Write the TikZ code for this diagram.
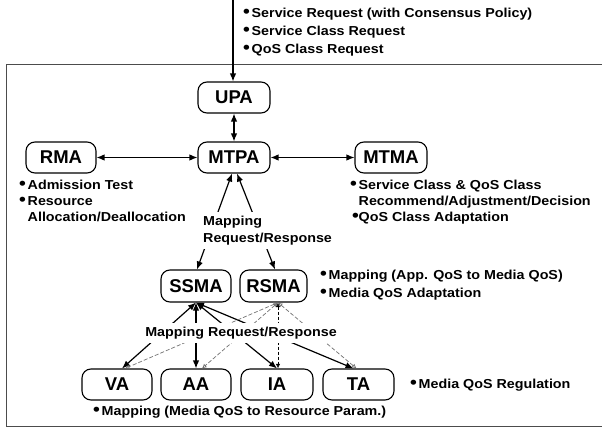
\documentclass[tikz,border=0pt]{standalone}
\usepackage{fontspec}
\setmainfont{Liberation Sans}
\newfontfamily\lblfont{Liberation Sans}[FakeStretch=1.10]
\usetikzlibrary{arrows.meta}
\newcommand{\bul}{\makebox[8.5pt][l]{\raisebox{-0.3pt}{\scalebox{1.35}{\textbullet}}}}
\begin{document}
\begin{tikzpicture}[x=1pt,y=-1pt,
  agent/.style={draw, line width=1.1pt, rounded corners=9pt, minimum height=31pt,
    font=\fontsize{18.5}{20}\selectfont\bfseries, inner sep=0pt},
  note/.style={anchor=west, inner sep=0pt, font=\lblfont\fontsize{13}{14}\selectfont\bfseries,
    text height=9.5pt, text depth=2.5pt},
  lbl/.style={fill=white, font=\lblfont\fontsize{13}{17}\selectfont\bfseries, align=left},
  arr/.style={line width=1.2pt, -{Latex[length=8pt,width=6.5pt]}},
  link/.style={line width=1.2pt, {Latex[length=8pt,width=6.5pt]}-{Latex[length=8pt,width=6.5pt]}},
  glink/.style={black!55, line width=0.7pt, dash pattern=on 4pt off 2pt,
    {Latex[open,length=4.5pt,width=4.5pt]}-{Latex[open,length=4.5pt,width=4.5pt]}},
  dlink/.style={black, line width=0.9pt, dash pattern=on 3pt off 2pt,
    {Latex[open,length=4.5pt,width=4.5pt]}-{Latex[open,length=4.5pt,width=4.5pt]}}
]
\useasboundingbox (0,0) rectangle (602,430);
\fill[white] (0,0) rectangle (602,430);
% frame
\draw[black!70, line width=0.9pt] (6,64) rectangle (615,426);

% agents
\node[agent, minimum width=72pt] (UPA)  at (234,97.5)  {UPA};
\node[agent, minimum width=72pt] (MTPA) at (234,157.5) {MTPA};
\node[agent, minimum width=70pt] (RMA)  at (61,157.5)  {RMA};
\node[agent, minimum width=72pt] (MTMA) at (391,157.5) {MTMA};
\node[agent, minimum width=70pt, minimum height=32pt] (SSMA) at (196,286) {SSMA};
\node[agent, minimum width=67pt, minimum height=32pt] (RSMA) at (273.5,286) {RSMA};
\node[agent, minimum width=70pt] (VA) at (117,384.5) {VA};
\node[agent, minimum width=70pt] (AA) at (196,384.5) {AA};
\node[agent, minimum width=72pt] (IA) at (277,384.5) {IA};
\node[agent, minimum width=71pt] (TA) at (358.5,384.5) {TA};

% incoming request
\coordinate (in) at (233,0);
\draw[arr] (in) -- ([xshift=-1pt]UPA.north);
\node[note] (t1) at (243,14) {\bul Service Request (with Consensus Policy)};
\node[note] (t2) at (243,32) {\bul Service Class Request};
\node[note] (t3) at (243,50) {\bul QoS Class Request};

% upper links
\draw[link] (UPA) -- (MTPA);
\draw[link] (RMA) -- (MTPA);
\draw[link] (MTPA) -- (MTMA);
\draw[link] ([xshift=1pt]SSMA.north) -- ([xshift=-2pt]MTPA.south);
\draw[link] ([xshift=1.5pt]RSMA.north) -- ([xshift=3pt]MTPA.south);

% lower links
\draw[link] (SSMA.south) -- ([xshift=5pt]VA.north);
\draw[link] (SSMA.south) -- (AA.north);
\draw[link] (SSMA.south) -- (IA.north);
\draw[link] (SSMA.south) -- ([xshift=-5pt]TA.north);
\draw[glink] ([xshift=4.5pt]RSMA.south) -- ([xshift=8pt]VA.north);
\draw[glink] ([xshift=4.5pt]RSMA.south) -- ([xshift=6pt]AA.north);
\draw[dlink] ([xshift=4.5pt]RSMA.south) -- ([xshift=1pt]IA.north);
\draw[glink] ([xshift=4.5pt]RSMA.south) -- ([xshift=-2pt]TA.north);

% labels on links
\node[lbl, anchor=west, inner xsep=0pt, inner ysep=4pt] (m1) at (203,230.5) {Mapping\\Request/Response};
\node[lbl, inner xsep=1pt, inner ysep=4pt] (m2) at (241,333) {Mapping Request/Response};

% RMA notes
\node[note] (r1) at (19,186) {\bul Admission Test};
\node[note] (r2) at (19,202) {\bul Resource};
\node[note] (r3) at (27.5,218) {Allocation/Deallocation};

% MTMA notes
\node[note] (s1) at (350,186) {\bul Service Class \& QoS Class};
\node[note] (s2) at (358.5,202) {Recommend/Adjustment/Decision};
\node[note] (s3) at (352,218) {\makebox[6.5pt][l]{\raisebox{-0.3pt}{\scalebox{1.35}{\textbullet}}}QoS Class Adaptation};

% RSMA notes
\node[note] (q1) at (320,276) {\bul Mapping (App. QoS to Media QoS)};
\node[note] (q2) at (320,294) {\bul Media QoS Adaptation};

% bottom notes
\node[note] (b1) at (410,385) {\bul Media QoS Regulation};
\node[note] (b2) at (93,412) {\bul Mapping (Media QoS to Resource Param.)};
\end{tikzpicture}
\end{document}
